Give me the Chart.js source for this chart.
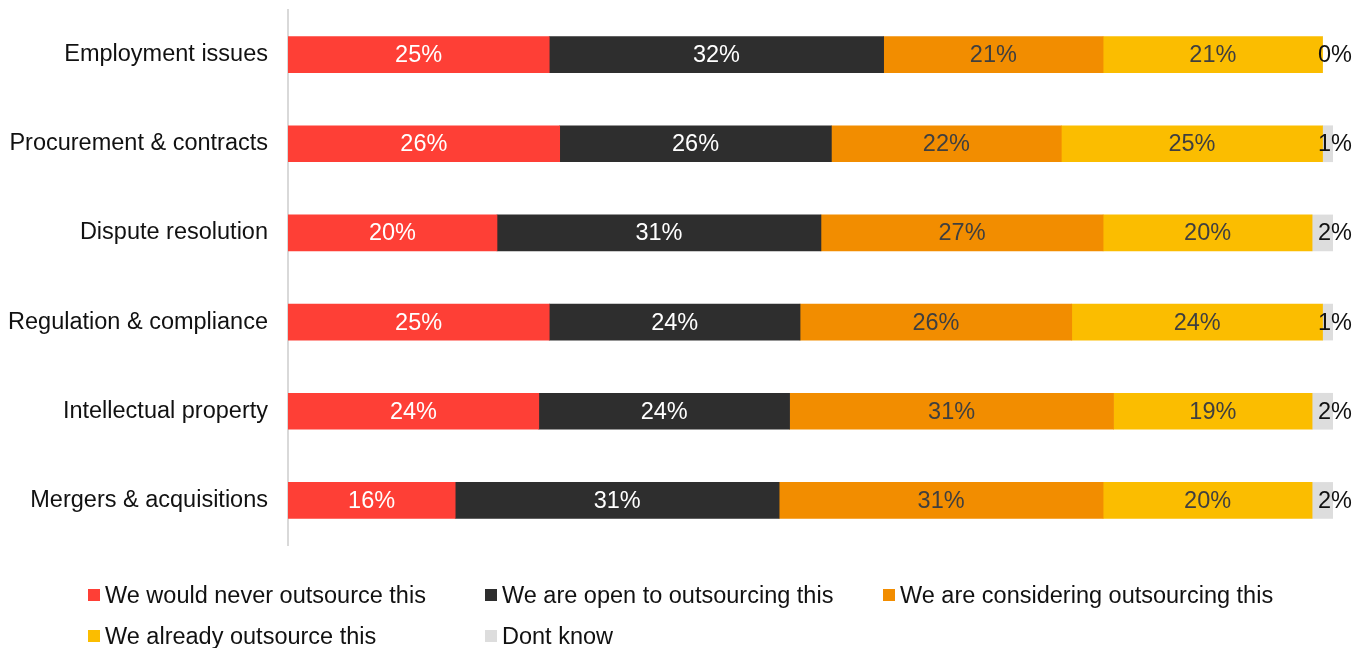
<!DOCTYPE html>
<html>
<head>
<meta charset="utf-8">
<script src="https://cdn.jsdelivr.net/npm/chart.js@4.4.1/dist/chart.umd.min.js"></script>
<style>
  html, body { margin: 0; padding: 0; background: #fff; }
  #wrap { position: relative; width: 1370px; height: 648px; }
  .lg { position: absolute; display: flex; align-items: center; height: 28px;
        font-family: "Liberation Sans", Arial, sans-serif; font-size: 23.5px; color: #111; white-space: nowrap; }
  .lg span.box { width: 12px; height: 12px; margin-right: 5px; display: inline-block; }
</style>
</head>
<body>
<div id="wrap">
  <canvas id="chart_bar" width="1370" height="648"></canvas>
  <div id="legend"></div>
</div>
<script>
const categories = ['Employment issues', 'Procurement & contracts', 'Dispute resolution',
  'Regulation & compliance', 'Intellectual property', 'Mergers & acquisitions'];
const seriesNames = ['We would never outsource this', 'We are open to outsourcing this',
  'We are considering outsourcing this', 'We already outsource this', 'Dont know'];
const neverOut = [25, 26, 20, 25, 24, 16];
const openTo = [32, 26, 31, 24, 24, 31];
const considering = [21, 22, 27, 26, 31, 31];
const already = [21, 25, 20, 24, 19, 20];
const dontKnow = [0, 1, 2, 1, 2, 2];

const colors = ['#fe3f36', '#2e2e2e', '#f28d00', '#fbbd00', '#dddddd'];
const labelColors = ['#ffffff', '#ffffff', '#3f3f3f', '#3f3f3f', '#111111'];
const FONT = '"Liberation Sans", Arial, sans-serif';

const allSeries = [neverOut, openTo, considering, already, dontKnow];

const g_dat = {
  labels: categories,
  datasets: allSeries.map((d, i) => ({
    label: seriesNames[i],
    data: d,
    backgroundColor: colors[i],
    borderWidth: 0,
    barThickness: 36
  }))
};

const valueLabels = {
  id: 'valueLabels',
  afterDatasetsDraw(chart) {
    const ctx = chart.ctx;
    const last = chart.data.datasets.length - 1;
    ctx.save();
    ctx.font = '23.5px ' + FONT;
    ctx.textBaseline = 'middle';
    chart.data.datasets.forEach((ds, i) => {
      const meta = chart.getDatasetMeta(i);
      meta.data.forEach((bar, j) => {
        const txt = ds.data[j] + '%';
        ctx.fillStyle = labelColors[i];
        if (i === last) {
          ctx.textAlign = 'right';
          ctx.fillText(txt, chart.scales.x.getPixelForValue(100) + 19, bar.y + 1);
        } else {
          ctx.textAlign = 'center';
          ctx.fillText(txt, (bar.x + bar.base) / 2, bar.y + 1);
        }
      });
    });
    ctx.restore();
  }
};

new Chart(document.getElementById('chart_bar').getContext('2d'), {
  type: 'bar',
  data: g_dat,
  plugins: [valueLabels],
  options: {
    indexAxis: 'y',
    responsive: false,
    animation: false,
    devicePixelRatio: 1,
    layout: { padding: { top: 10, bottom: 103, right: 37, left: 0 } },
    plugins: { legend: { display: false }, tooltip: { enabled: false } },
    scales: {
      x: { stacked: true, min: 0, max: 100, display: false },
      y: {
        stacked: true,
        afterFit(scale) {
          scale.width = 288;
          scale.paddingTop = 0;
          scale.paddingBottom = 0;
        },
        grid: { display: false, drawTicks: false },
        border: { display: true, color: '#d9d9d9', width: 2 },
        ticks: { padding: 20, color: '#111', font: { family: FONT, size: 23.5 } }
      }
    }
  }
});

// legend laid out as a three-column grid
const legendPos = [[88, 581], [485, 581], [883, 581], [88, 622], [485, 622]];
const lg = document.getElementById('legend');
seriesNames.forEach((name, i) => {
  const el = document.createElement('div');
  el.className = 'lg';
  el.style.left = legendPos[i][0] + 'px';
  el.style.top = legendPos[i][1] + 'px';
  el.innerHTML = '<span class="box" style="background:' + colors[i] + '"></span>';
  el.appendChild(document.createTextNode(name));
  lg.appendChild(el);
});
</script>
</body>
</html>
